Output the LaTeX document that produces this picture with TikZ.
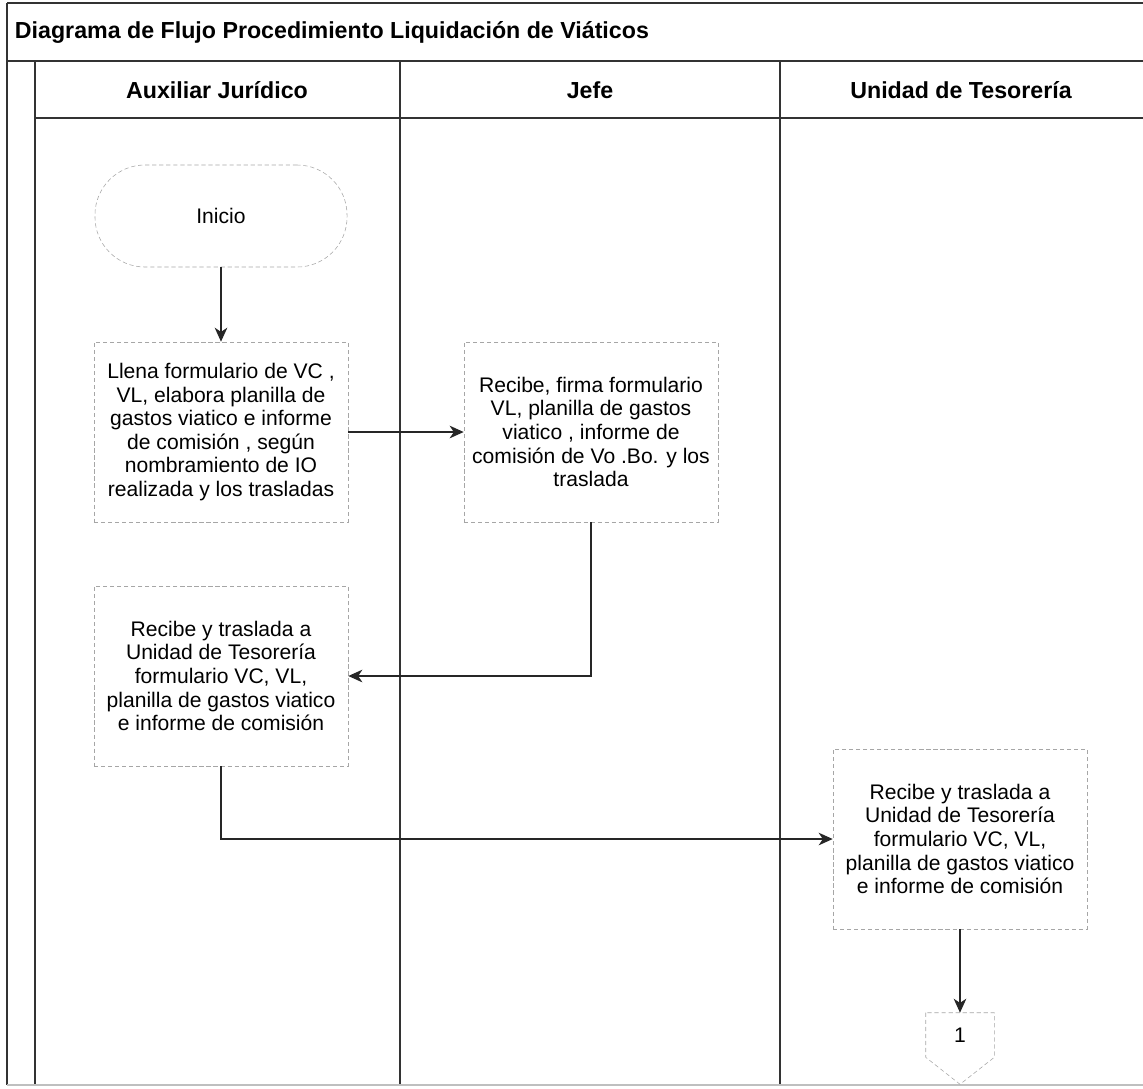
\documentclass[tikz,border=0pt]{standalone}
\usepackage{fontspec}
\setmainfont{Liberation Sans}
\usetikzlibrary{positioning, arrows.meta, calc}

\begin{document}
\begin{tikzpicture}[
            x=0.025cm, y=-0.025cm,
            lane/.style={draw=black!80, line width=0.9pt},
            proc/.style={rectangle, draw=gray!70, densely dashed, thin, minimum width=6.35cm, minimum height=4.5cm, align=center, inner sep=2pt, font=\fontsize{15}{16.8}\selectfont},
            term/.style={rectangle, rounded corners=1.25cm, draw=gray!70, densely dashed, thin, minimum width=6.3cm, minimum height=2.55cm, font=\fontsize{15}{18}\selectfont},
            conn/.style={rectangle, minimum width=1.7cm, minimum height=1.1cm, font=\fontsize{15}{18}\selectfont},
            head/.style={font=\bfseries\fontsize{16.5}{20}\selectfont},
            flow/.style={-{Stealth[length=10pt, width=9pt, inset=3pt]}, line width=0.9pt, draw=black!85}
        ]
        \useasboundingbox (0,0) rectangle (1143,1088);
        % Frame and lanes
        \draw[lane] (7,3) -- (1143,3);
        \draw[lane] (7,61) -- (1143,61);
        \draw[lane] (35,118) -- (1143,118);
        \draw[lane] (7,3) -- (7,1085);
        \draw[lane] (35,61) -- (35,1085);
        \draw[lane] (400,61) -- (400,1085);
        \draw[lane] (780,61) -- (780,1085);
        \draw[lane, draw=gray!50] (7,1085) -- (1143,1085);
        % Title and lane headers
        \node[head, anchor=west] (title) at (10,32) {Diagrama de Flujo Procedimiento Liquidación de Viáticos};
        \node[head] (hAux) at (217,90) {Auxiliar Jurídico};
        \node[head] (hJefe) at (590,90) {Jefe};
        \node[head] (hTes) at (961,90) {Unidad de Tesorería};
        % Steps
        \node[term] (inicio) at (221,216) {Inicio};
        \node[proc] (llena) at (221,432) {Llena formulario de VC ,\\ VL, elabora planilla de\\ gastos viatico e informe\\ de comisión , según\\ nombramiento de IO\\ realizada y los trasladas};
        \node[proc] (recibe) at (591,432) {Recibe, firma formulario\\ VL, planilla de gastos\\ viatico , informe de\\ comisión de Vo .Bo. y los\\ traslada};
        \node[proc] (traslada) at (221,676) {Recibe y traslada a\\ Unidad de Tesorería\\ formulario VC, VL,\\ planilla de gastos viatico\\ e informe de comisión};
        \node[proc] (tesoreria) at (960,839) {Recibe y traslada a\\ Unidad de Tesorería\\ formulario VC, VL,\\ planilla de gastos viatico\\ e informe de comisión};
        % Off-page connector
        \node[conn] (pag1) at (960,1035) {1};
        \draw[gray!70, densely dashed, thin] (pag1.north west) -- (pag1.south west) -- ($(pag1.south)+(0,27)$) -- (pag1.south east) -- (pag1.north east) -- cycle;
        % Flow
        \draw[flow] (inicio) -- (llena);
        \draw[flow] (llena) -- (recibe);
        \draw[flow] (recibe.south) |- (traslada.east);
        \draw[flow] (traslada.south) |- (tesoreria.west);
        \draw[flow] (tesoreria) -- (pag1);
        \end{tikzpicture}
\end{document}
